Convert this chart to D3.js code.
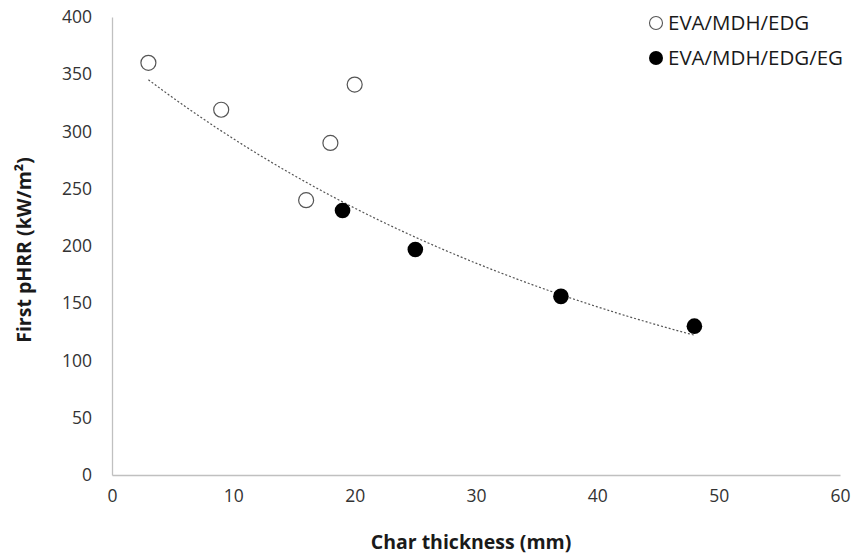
<!DOCTYPE html>
<html><head><meta charset="utf-8">
<script src="https://cdn.jsdelivr.net/npm/d3@7"></script>
<style>body{margin:0;background:#fff}</style>
</head><body>
<svg id="c" width="852" height="558"></svg>
<script>
const seriesNames = ["EVA/MDH/EDG", "EVA/MDH/EDG/EG"];
const openX = [3, 9, 16, 18, 20];
const openY = [360, 319, 240, 290, 341];
const filledX = [19, 25, 37, 48];
const filledY = [231, 197, 156, 130];
const xTicks = [0, 10, 20, 30, 40, 50, 60];
const yTicks = [0, 50, 100, 150, 200, 250, 300, 350, 400];
// exponential trendline y = a*exp(b*x)
const trendA = 370, trendB = -0.0231, trendRange = [3, 48];

const svg = d3.select("#c");
const L = 112, R = 840, T = 17, B = 475;
const x = d3.scaleLinear().domain([0, 60]).range([L, R]);
const y = d3.scaleLinear().domain([0, 400]).range([B, T]);
const font = "'Open Sans', sans-serif";

// axes
const xa = svg.append("g").attr("transform", `translate(0,${B})`)
  .call(d3.axisBottom(x).tickValues(xTicks).tickSize(0).tickPadding(15));
const ya = svg.append("g").attr("transform", `translate(${L},0)`)
  .call(d3.axisLeft(y).tickValues(yTicks).tickSize(0).tickPadding(20));
[xa, ya].forEach(a => {
  a.select(".domain").attr("stroke", "#c0c0c0").attr("stroke-width", 1.3);
  a.selectAll("text").attr("font-family", font).attr("font-size", 17.5).attr("fill", "#333");
});

// trendline
const tx = d3.range(trendRange[0], trendRange[1] + 0.01, 0.5);
svg.append("path")
  .datum(tx)
  .attr("d", d3.line().x(d => x(d)).y(d => y(trendA * Math.exp(trendB * d))))
  .attr("fill", "none").attr("stroke", "#555").attr("stroke-width", 1.2)
  .attr("stroke-dasharray", "2,2");

// points
svg.append("g").selectAll("circle").data(openX.map((d, i) => [d, openY[i]])).join("circle")
  .attr("cx", d => x(d[0])).attr("cy", d => y(d[1])).attr("r", 7.5)
  .attr("fill", "#fff").attr("stroke", "#555").attr("stroke-width", 1.2);
svg.append("g").selectAll("circle").data(filledX.map((d, i) => [d, filledY[i]])).join("circle")
  .attr("cx", d => x(d[0])).attr("cy", d => y(d[1])).attr("r", 7.8)
  .attr("fill", "#000");

// legend
const lg = svg.append("g");
seriesNames.forEach((n, i) => {
  const cy = 23 + i * 35;
  lg.append("circle").attr("cx", 656).attr("cy", cy).attr("r", i ? 7 : 6.5)
    .attr("fill", i ? "#000" : "#fff").attr("stroke", i ? "none" : "#555").attr("stroke-width", 1.1);
  lg.append("text").attr("x", 668).attr("y", cy + 7).text(n)
    .attr("font-family", font).attr("font-size", 20.5).attr("fill", "#1a1a1a");
});

// axis titles
svg.append("text").attr("x", 471).attr("y", 549).attr("text-anchor", "middle")
  .attr("font-family", font).attr("font-weight", "bold").attr("font-size", 19.5).attr("fill", "#1a1a1a")
  .text("Char thickness (mm)");
svg.append("text").attr("transform", "translate(31,250) rotate(-90)").attr("text-anchor", "middle")
  .attr("font-family", font).attr("font-weight", "bold").attr("font-size", 19.5).attr("fill", "#1a1a1a")
  .text("First pHRR (kW/m²)");
</script>
</body></html>
